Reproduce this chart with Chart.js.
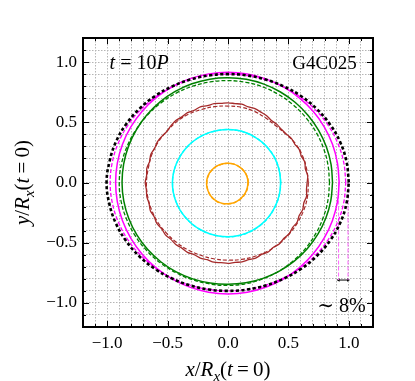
<!DOCTYPE html>
<html lang="en">
<head>
<meta charset="UTF-8">
<title>G4C025 contours at t = 10P</title>
<script src="https://cdn.jsdelivr.net/npm/chart.js"></script>
<style>
  html, body { margin: 0; padding: 0; background: #fff; }
</style>
</head>
<body>
<canvas id="contours" width="415" height="381"></canvas>
<script>
const angles10 = [0,10,20,30,40,50,60,70,80,90,100,110,120,130,140,150,160,170,
                  180,190,200,210,220,230,240,250,260,270,280,290,300,310,320,330,340,350];
const angles5 = [0,5,10,15,20,25,30,35,40,45,50,55,60,65,70,75,80,85,90,95,100,105,110,115,
                 120,125,130,135,140,145,150,155,160,165,170,175,180,185,190,195,200,205,210,215,
                 220,225,230,235,240,245,250,255,260,265,270,275,280,285,290,295,300,305,310,315,
                 320,325,330,335,340,345,350,355];

// radius of each contour, in units of R_x(t = 0)
const blackR = [1.00,0.996,0.987,0.972,0.955,0.938,0.922,0.91,0.903,0.90,0.903,0.91,0.922,0.938,0.955,0.972,0.987,0.996,
                1.005,0.998,0.988,0.973,0.956,0.938,0.922,0.91,0.903,0.90,0.903,0.91,0.922,0.938,0.955,0.972,0.987,0.996];
const magentaR = [0.92,0.92,0.921,0.921,0.92,0.918,0.917,0.916,0.915,0.915,0.916,0.918,0.92,0.922,0.925,0.927,0.929,0.93,
                  0.93,0.93,0.929,0.928,0.927,0.926,0.925,0.925,0.925,0.925,0.925,0.924,0.923,0.922,0.921,0.92,0.92,0.92];
const magentaDashR = [0.975,0.972,0.965,0.955,0.942,0.929,0.917,0.908,0.902,0.90,0.902,0.908,0.917,0.929,0.942,0.955,0.965,0.972,
                      0.975,0.972,0.965,0.955,0.942,0.929,0.917,0.908,0.902,0.90,0.902,0.908,0.917,0.929,0.942,0.955,0.965,0.972];
const greenR = [0.865,0.866,0.866,0.866,0.866,0.867,0.868,0.869,0.87,0.87,0.871,0.872,0.873,0.874,0.875,0.876,0.877,0.877,
                0.877,0.876,0.874,0.871,0.867,0.862,0.857,0.852,0.848,0.845,0.845,0.847,0.85,0.853,0.856,0.859,0.862,0.864];
const greenDashR = [0.84,0.84,0.84,0.84,0.84,0.841,0.842,0.844,0.845,0.846,0.848,0.852,0.857,0.863,0.87,0.878,0.887,0.895,
                    0.90,0.898,0.893,0.886,0.879,0.871,0.864,0.859,0.856,0.855,0.853,0.851,0.848,0.845,0.843,0.841,0.84,0.84];
const brownR = [0.655,0.662,0.65,0.658,0.645,0.65,0.638,0.64,0.628,0.625,0.63,0.628,0.64,0.645,0.652,0.65,0.66,0.658,
                0.662,0.66,0.665,0.66,0.668,0.662,0.67,0.665,0.672,0.667,0.66,0.668,0.675,0.67,0.68,0.672,0.682,0.676,
                0.685,0.678,0.682,0.676,0.684,0.674,0.68,0.67,0.676,0.668,0.672,0.665,0.67,0.662,0.668,0.664,0.672,0.668,
                0.672,0.666,0.67,0.664,0.668,0.66,0.666,0.656,0.664,0.655,0.662,0.652,0.66,0.65,0.658,0.65,0.66,0.652];
const brownDashR = [0.665,0.66,0.655,0.645,0.625,0.615,0.62,0.63,0.635,0.635,0.64,0.645,0.655,0.66,0.662,0.668,0.672,0.67,
                    0.675,0.675,0.672,0.668,0.66,0.655,0.65,0.645,0.645,0.645,0.648,0.652,0.658,0.66,0.662,0.665,0.668,0.668];
const cyanR = [0.435,0.435,0.436,0.437,0.437,0.438,0.438,0.439,0.44,0.44,0.441,0.443,0.445,0.447,0.45,0.452,0.455,0.458,
               0.46,0.46,0.459,0.458,0.456,0.455,0.453,0.452,0.451,0.45,0.449,0.447,0.445,0.443,0.441,0.438,0.437,0.436];
const cyanDashR = [0.437,0.436,0.437,0.438,0.438,0.437,0.437,0.438,0.439,0.44,0.44,0.442,0.444,0.447,0.449,0.452,0.455,0.457,
                   0.459,0.459,0.458,0.457,0.456,0.455,0.454,0.453,0.452,0.452,0.451,0.449,0.447,0.445,0.442,0.44,0.438,0.437];
const orangeR = [0.165,0.165,0.164,0.163,0.162,0.161,0.16,0.16,0.16,0.16,0.161,0.162,0.164,0.166,0.169,0.172,0.174,0.176,
                 0.177,0.178,0.179,0.18,0.181,0.181,0.181,0.18,0.179,0.177,0.175,0.173,0.171,0.169,0.168,0.167,0.166,0.165];
const orangeDashR = [0.168,0.168,0.166,0.165,0.163,0.162,0.161,0.16,0.159,0.159,0.16,0.161,0.163,0.165,0.167,0.17,0.172,0.174,
                     0.175,0.177,0.178,0.18,0.182,0.183,0.183,0.182,0.18,0.178,0.177,0.175,0.174,0.172,0.171,0.17,0.169,0.168];

// the "~8%" marker: two vertical guides and the arrow between them
const gapX = [0.915, 0.993];
const gapTop = 0.0;
const gapBottom = -0.81;

// axis ticks and text
const axisMin = -1.2, axisMax = 1.2, gridStep = 0.1, labelStep = 0.5;
const xTitle = [['x','i'],['/','r'],['R','i'],['x','s'],['(','r'],['t','i'],['\u2009=\u2009','r'],['0)','r']];
const yTitle = [['y','i'],['/','r'],['R','i'],['x','s'],['(','r'],['t','i'],['\u2009=\u2009','r'],['0)','r']];
const timeLabel = [['t','i'],[' = ','r'],['10','r'],['P','i']];
const modelLabel = [['G4C025','r']];
const gapLabel = [['\u223C 8%','r']];

const SERIF = '"Liberation Serif", "DejaVu Serif", serif';

function contour(angles, radii) {
  const pts = angles.map((a, i) => ({
    x: radii[i] * Math.cos(a * Math.PI / 180),
    y: radii[i] * Math.sin(a * Math.PI / 180)
  }));
  pts.push(pts[0]);
  return pts;
}

function line(label, data, color, width, dash, extra) {
  return Object.assign({
    label, data, borderColor: color, borderWidth: width, borderDash: dash || [],
    pointRadius: 0, showLine: true, fill: false, tension: 0.4
  }, extra || {});
}

const isMajor = v => Math.abs(v / labelStep - Math.round(v / labelStep)) < 1e-6;

// draws a run of text pieces (italic / roman / subscript) starting at x
function drawRich(ctx, pieces, x, y, size, align) {
  const fontFor = k => k === 'i' ? `italic ${size}px ${SERIF}`
                    : k === 's' ? `italic ${Math.round(size * 0.7)}px ${SERIF}`
                    : `${size}px ${SERIF}`;
  let total = 0;
  pieces.forEach(([t, k]) => { ctx.font = fontFor(k); total += ctx.measureText(t).width; });
  let cx = align === 'center' ? x - total / 2 : align === 'right' ? x - total : x;
  ctx.textAlign = 'left';
  ctx.textBaseline = 'alphabetic';
  pieces.forEach(([t, k]) => {
    ctx.font = fontFor(k);
    ctx.fillText(t, cx, k === 's' ? y + size * 0.22 : y);
    cx += ctx.measureText(t).width;
  });
}

const decorations = {
  id: 'decorations',
  afterDatasetsDraw(chart) {
    const {ctx, chartArea: a, scales: {x, y}} = chart;
    ctx.save();
    // inward tick marks on all four sides
    ctx.strokeStyle = '#000';
    ctx.lineWidth = 1;
    ctx.beginPath();
    x.ticks.forEach(t => {
      const px = Math.round(x.getPixelForValue(t.value)) + 0.5;
      const len = isMajor(t.value) ? 6 : 3;
      ctx.moveTo(px, a.bottom); ctx.lineTo(px, a.bottom - len);
      ctx.moveTo(px, a.top); ctx.lineTo(px, a.top + len);
    });
    y.ticks.forEach(t => {
      const py = Math.round(y.getPixelForValue(t.value)) + 0.5;
      const len = isMajor(t.value) ? 6 : 3;
      ctx.moveTo(a.left, py); ctx.lineTo(a.left + len, py);
      ctx.moveTo(a.right, py); ctx.lineTo(a.right - len, py);
    });
    ctx.stroke();
    // frame
    ctx.lineWidth = 2;
    ctx.strokeRect(a.left, a.top, a.right - a.left, a.bottom - a.top);

    // text inside the plot
    ctx.fillStyle = '#000';
    drawRich(ctx, timeLabel, x.getPixelForValue(-0.98), y.getPixelForValue(0.945), 20, 'left');
    drawRich(ctx, modelLabel, x.getPixelForValue(1.065), y.getPixelForValue(0.945), 19, 'right');
    drawRich(ctx, gapLabel, x.getPixelForValue(1.14), y.getPixelForValue(-1.075), 20, 'right');

    // axis titles
    drawRich(ctx, xTitle, (a.left + a.right) / 2, 376, 21, 'center');
    ctx.translate(29, (a.top + a.bottom) / 2);
    ctx.rotate(-Math.PI / 2);
    drawRich(ctx, yTitle, 0, 0, 21, 'center');
    ctx.restore();
  }
};

const datasets = [
  line('t = 0 surface', contour(angles10, blackR), '#000000', 2.6, [3.2, 2.4]),
  line('magenta dashed', contour(angles10, magentaDashR), '#ff00ff', 1.3, [4, 2]),
  line('magenta', contour(angles10, magentaR), '#ff00ff', 1.5),
  line('green dashed', contour(angles10, greenDashR), '#008000', 1.3, [4, 2]),
  line('green', contour(angles10, greenR), '#008000', 1.5),
  line('brown dashed', contour(angles10, brownDashR), '#a52a2a', 1.2, [4, 2]),
  line('brown', contour(angles5, brownR), '#a52a2a', 1.3, [], {tension: 0.3}),
  line('cyan dashed', contour(angles10, cyanDashR), '#00ffff', 1.3, [4, 2]),
  line('cyan', contour(angles10, cyanR), '#00ffff', 1.5),
  line('orange dashed', contour(angles10, orangeDashR), '#ffa500', 1.3, [4, 2]),
  line('orange', contour(angles10, orangeR), '#ffa500', 1.5),
  line('gap inner', [{x: gapX[0], y: gapTop}, {x: gapX[0], y: gapBottom}], '#ff66ff', 1, [4, 2], {tension: 0}),
  line('gap outer', [{x: gapX[1], y: gapTop}, {x: gapX[1], y: gapBottom}], '#ff66ff', 1, [4, 2], {tension: 0}),
  line('gap arrow', [{x: gapX[0], y: gapBottom}, {x: gapX[1], y: gapBottom}], '#000000', 1, [], {
    tension: 0, pointRadius: 2, pointStyle: 'triangle', pointRotation: [-90, 90],
    pointBackgroundColor: '#000', pointBorderColor: '#000', pointBorderWidth: 0
  })
];

function axis(fitKey, fitSize) {
  return {
    type: 'linear',
    min: axisMin,
    max: axisMax,
    afterFit(scale) { scale[fitKey] = fitSize; },
    grid: { color: '#b5b5b5', lineWidth: 1, drawTicks: false },
    border: { display: false, dash: [1.5, 1.5] },
    ticks: {
      stepSize: gridStep,
      autoSkip: false,
      maxRotation: 0,
      padding: 6,
      color: '#000',
      font: { family: SERIF, size: 17 },
      callback: v => isMajor(v) ? (Math.round(v * 2) / 2).toFixed(1).replace('-', '\u2212') : ''
    }
  };
}

new Chart(document.getElementById('contours'), {
  type: 'scatter',
  data: { datasets },
  options: {
    responsive: false,
    animation: false,
    layout: { padding: { left: 40, top: 38, right: 42, bottom: 24 } },
    plugins: { legend: { display: false }, tooltip: { enabled: false } },
    scales: { x: axis('height', 30), y: axis('width', 43) }
  },
  plugins: [decorations]
});
</script>
</body>
</html>
